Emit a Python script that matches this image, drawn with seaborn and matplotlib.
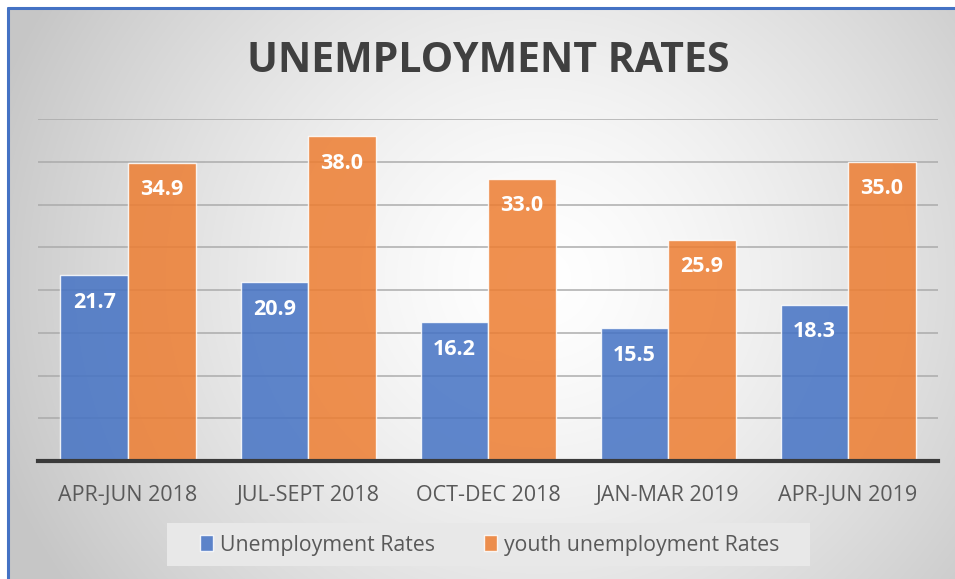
import numpy as np
import pandas as pd
import matplotlib
matplotlib.use("Agg")
import matplotlib.pyplot as plt
from matplotlib.patches import Patch, Rectangle
from matplotlib.lines import Line2D
import seaborn as sns

# ---- data ----
periods = ["APR-JUN 2018", "JUL-SEPT 2018", "OCT-DEC 2018", "JAN-MAR 2019", "APR-JUN 2019"]
unemployment = [21.7, 20.9, 16.2, 15.5, 18.3]
youth_unemployment = [34.9, 38.0, 33.0, 25.9, 35.0]
series_names = ["Unemployment Rates", "youth unemployment Rates"]
title_text = "UNEMPLOYMENT RATES"

df = pd.DataFrame({
    "period": periods * 2,
    "value": unemployment + youth_unemployment,
    "series": [series_names[0]] * len(periods) + [series_names[1]] * len(periods),
})

sns.set_theme(style="white")
plt.rcParams["font.family"] = ["Open Sans", "DejaVu Sans"]

W, H = 955, 579
fig = plt.figure(figsize=(W / 100, H / 100), dpi=100)
fig.patch.set_facecolor("white")

# ---- background radial gradient ----
bx0, by_top = 8, 8
bg = fig.add_axes([bx0 / W, 0, 1 - bx0 / W, 1 - by_top / H], zorder=-10)
bw, bh = W - bx0, H - by_top
yy, xx = np.mgrid[0:bh, 0:bw]
cx, cy = 530, 270
d = np.sqrt(((xx - cx) / 1.0) ** 2 + ((yy - cy) / 0.95) ** 2)
t = np.clip(d / 570.0, 0, 1) ** 1.4
val = 1.0 * (1 - t) + 0.78 * t
img = np.dstack([val, val, val])
bg.imshow(img, extent=[0, 1, 0, 1], aspect="auto", interpolation="bilinear")
bg.set_axis_off()

# border lines (left and top)
fig.add_artist(Line2D([bx0 / W, bx0 / W], [0, 1 - by_top / H], color="#4472C4", lw=2.2,
                      transform=fig.transFigure, zorder=5))
fig.add_artist(Line2D([bx0 / W, 1], [1 - by_top / H, 1 - by_top / H], color="#4472C4", lw=2.2,
                      transform=fig.transFigure, zorder=5))

# ---- main axes ----
left, right = 38, 938
top_px, base_px = 119, 461
ax = fig.add_axes([left / W, (H - base_px) / H, (right - left) / W, (base_px - top_px) / H])
ax.patch.set_alpha(0)

colors = ["#4472C4", "#ED7D31"]
sns.barplot(data=df, x="period", y="value", hue="series", order=periods,
            hue_order=series_names, palette=colors, width=0.75, gap=0.0,
            saturation=1, alpha=0.85, edgecolor=(1, 1, 1, 0.5), linewidth=1.0,
            legend=False, ax=ax, zorder=3)

ax.set_ylim(0, 40)
ax.set_xlim(-0.5, len(periods) - 0.5)
ax.set_yticks(np.arange(5, 41, 5))
ax.yaxis.grid(True, color="#a8a8a8", lw=1.3, alpha=0.8, zorder=0)
ax.set_axisbelow(True)
ax.tick_params(axis="y", left=False, labelleft=False)
ax.tick_params(axis="x", bottom=False, labelsize=15.5, labelcolor="#595959", pad=11)
ax.set_xlabel("")
ax.set_ylabel("")
for s in ["left", "right", "top"]:
    ax.spines[s].set_visible(False)
ax.spines["bottom"].set_color("#3a3a3a")
ax.spines["bottom"].set_linewidth(3.0)
ax.spines["bottom"].set_zorder(6)

# value labels inside bars
for cont in ax.containers:
    for rect in cont:
        h = rect.get_height()
        ax.annotate(f"{h:.1f}", (rect.get_x() + rect.get_width() / 2, h),
                    xytext=(0, -27), textcoords="offset pixels",
                    ha="center", va="center", color="white",
                    fontsize=15.5, fontweight="bold", zorder=7)

# title
fig.text(488 / W, 1 - 61 / H, title_text, ha="center", va="center",
         fontsize=29.5, fontweight="bold", color="#404040")

# legend background box
fig.add_artist(Rectangle((167 / W, 1 - 566 / H), (810 - 167) / W, 43 / H,
                         transform=fig.transFigure, facecolor="#e8e8e8",
                         edgecolor="none", zorder=1))

# legend
handles = [Patch(facecolor=c, alpha=0.85, edgecolor=(1, 1, 1, 0.5)) for c in colors]
leg = fig.legend(handles, series_names, loc="center", bbox_to_anchor=(490 / W, 1 - 545 / H),
                 ncol=2, frameon=False,
                 fontsize=15.3, handlelength=0.6, handleheight=0.75, handletextpad=0.35,
                 columnspacing=2.3, borderpad=0.3, borderaxespad=0)
leg.set_zorder(3)
for txt in leg.get_texts():
    txt.set_color("#595959")

fig.savefig("out.png", dpi=100)
